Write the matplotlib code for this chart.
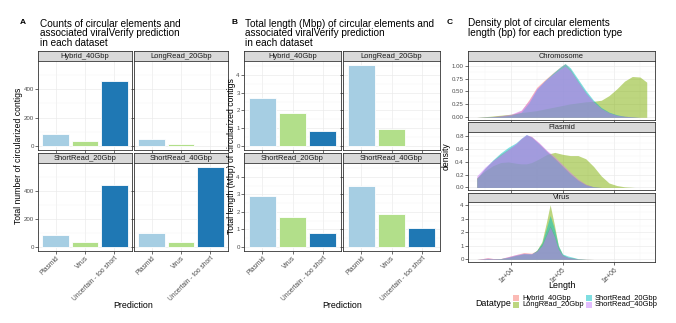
import numpy as np
import matplotlib
matplotlib.use("Agg")
import matplotlib.pyplot as plt
from matplotlib.patches import Rectangle

plt.rcParams['font.family'] = ['Liberation Sans', 'DejaVu Sans']

# bar data (panels A and B)
predictions = ['Plasmid', 'Virus', 'Uncertain - too short']
datasets = ['Hybrid_40Gbp', 'LongRead_20Gbp', 'ShortRead_20Gbp', 'ShortRead_40Gbp']
bar_colors = ['#a6cee3', '#b2df8a', '#1f78b4']

counts_hybrid40 = [85, 37, 455]
counts_long20 = [48, 16, None]
counts_short20 = [86, 33, 440]
counts_short40 = [100, 37, 570]

mbp_hybrid40 = [2.70, 1.83, 0.84]
mbp_long20 = [4.56, 0.95, None]
mbp_short20 = [2.88, 1.73, 0.82]
mbp_short40 = [3.46, 1.86, 1.06]

# density data (panel C), x = log10(length)
chrom_x = [3.34, 3.6, 3.8, 4.0, 4.2, 4.35, 4.5, 4.65, 4.8, 4.95, 5.05, 5.15,
           5.3, 5.45, 5.6, 5.75, 5.9, 6.05, 6.2, 6.35, 6.5, 6.63]
chrom_hybrid40 = [0, 0.01, 0.03, 0.05, 0.13, 0.34, 0.58, 0.72, 0.85, 0.97, 1.04, 0.93,
                  0.70, 0.48, 0.30, 0.17, 0.09, 0.04, 0.02, 0.01, 0, 0]
chrom_long20 = [0, 0.02, 0.04, 0.06, 0.09, 0.11, 0.13, 0.16, 0.19, 0.22, 0.24, 0.26,
                0.28, 0.30, 0.31, 0.33, 0.42, 0.55, 0.70, 0.79, 0.78, 0.68]
chrom_short20 = [0, 0.01, 0.02, 0.04, 0.10, 0.28, 0.54, 0.70, 0.84, 0.97, 1.04, 0.96,
                 0.74, 0.52, 0.33, 0.19, 0.10, 0.05, 0.02, 0.01, 0, 0]
chrom_short40 = [0, 0.01, 0.03, 0.06, 0.14, 0.32, 0.56, 0.70, 0.82, 0.93, 0.99, 0.90,
                 0.68, 0.47, 0.30, 0.17, 0.09, 0.04, 0.02, 0.01, 0, 0]

plas_x = [3.34, 3.5, 3.65, 3.8, 3.95, 4.1, 4.2, 4.3, 4.4, 4.55, 4.7, 4.85, 5.0,
          5.15, 5.3, 5.45, 5.6, 5.75, 5.9, 6.05, 6.2, 6.4, 6.63]
plas_hybrid40 = [0.15, 0.30, 0.42, 0.52, 0.60, 0.68, 0.76, 0.82, 0.80, 0.69, 0.57, 0.46, 0.34,
                 0.22, 0.12, 0.05, 0.01, 0, 0, 0, 0, 0, 0]
plas_long20 = [0.15, 0.26, 0.34, 0.39, 0.40, 0.38, 0.37, 0.37, 0.39, 0.45, 0.52, 0.55, 0.52,
               0.50, 0.50, 0.45, 0.33, 0.18, 0.07, 0.03, 0.01, 0, 0]
plas_short20 = [0.14, 0.30, 0.43, 0.54, 0.63, 0.70, 0.77, 0.83, 0.79, 0.68, 0.56, 0.45, 0.33,
                0.21, 0.11, 0.04, 0.01, 0, 0, 0, 0, 0, 0]
plas_short40 = [0.18, 0.32, 0.42, 0.50, 0.59, 0.69, 0.77, 0.83, 0.80, 0.70, 0.58, 0.48, 0.36,
                0.24, 0.13, 0.05, 0.01, 0, 0, 0, 0, 0, 0]

virus_x = [3.34, 3.45, 3.55, 3.65, 3.8, 3.95, 4.1, 4.25, 4.4, 4.5, 4.6, 4.68, 4.76,
           4.84, 4.92, 5.0, 5.1, 5.2, 5.3, 5.45, 5.6]
virus_hybrid40 = [0, 0.05, 0.12, 0.06, 0.05, 0.2, 0.35, 0.5, 0.45, 0.65, 1.1, 1.8, 2.5,
                  1.8, 0.8, 0.3, 0.15, 0.08, 0.03, 0.01, 0]
virus_long20 = [0, 0.02, 0.04, 0.03, 0.05, 0.15, 0.28, 0.40, 0.38, 0.65, 1.3, 2.6, 4.05,
                2.6, 1.0, 0.35, 0.15, 0.10, 0.04, 0.01, 0]
virus_short20 = [0, 0.02, 0.05, 0.03, 0.05, 0.15, 0.30, 0.42, 0.40, 0.65, 1.2, 2.2, 3.25,
                 2.3, 1.0, 0.4, 0.25, 0.15, 0.05, 0.01, 0]
virus_short40 = [0, 0.05, 0.10, 0.06, 0.05, 0.2, 0.35, 0.45, 0.42, 0.6, 1.0, 1.7, 2.4,
                 1.7, 0.75, 0.3, 0.15, 0.08, 0.03, 0.01, 0]

dens_colors = ['#F8766D', '#7CAE00', '#00BFC4', '#C77CFF']

W, H = 676, 323
fig = plt.figure(figsize=(W / 100, H / 100), dpi=100)

def box(x0, y0, x1, y1):
    return [x0 / W, 1 - y1 / H, (x1 - x0) / W, (y1 - y0) / H]

def strip(x0, y0, x1, y1, label):
    s = fig.add_axes(box(x0, y0, x1, y1))
    s.set_facecolor('#d9d9d9')
    s.set_xticks([]); s.set_yticks([])
    for sp in s.spines.values():
        sp.set_color('#333333'); sp.set_linewidth(0.6)
    s.text(0.5, 0.45, label, ha='center', va='center', fontsize=5.4, color='#1a1a1a',
           transform=s.transAxes)

def style(ax):
    ax.set_facecolor('white')
    for sp in ax.spines.values():
        sp.set_color('#333333'); sp.set_linewidth(0.6)
    ax.grid(True, which='major', color='#ebebeb', lw=0.5)
    ax.grid(True, which='minor', color='#f4f4f4', lw=0.3)
    ax.set_axisbelow(True)
    ax.tick_params(which='major', length=2, width=0.5, color='#333333', labelsize=4.4,
                   labelcolor='#4d4d4d', pad=1)
    ax.tick_params(which='minor', length=0)

def bar_facets(xs, values, yticks, ymax, ylabel, ylabel_x):
    ys = [(61, 150, 51), (163, 251, 153)]
    k = 0
    for r in range(2):
        for c in range(2):
            x0, x1 = xs[c]
            y0, y1, sy = ys[r]
            strip(x0, sy, x1, y0, datasets[k])
            ax = fig.add_axes(box(x0, y0, x1, y1))
            style(ax)
            vals = values[k]
            for i, v in enumerate(vals):
                if v is not None:
                    ax.bar(i, v, width=0.9, color=bar_colors[i], edgecolor='white', lw=0.6)
            ax.set_xlim(-0.6, 2.6)
            ax.set_ylim(-0.05 * ymax, ymax * 1.05)
            ax.set_xticks(range(3))
            ax.set_yticks(yticks)
            step = yticks[1] - yticks[0]
            ax.set_yticks(np.arange(step / 2, ymax * 1.05, step), minor=True)
            if r == 1:
                ax.set_xticklabels(predictions, rotation=45, ha='right', rotation_mode='anchor',
                                   fontsize=4.8)
            else:
                ax.set_xticklabels([])
            if c == 1:
                ax.set_yticklabels([])
            k += 1
    fig.text(ylabel_x / W, 1 - 156 / H, ylabel, rotation=90, ha='center', va='center', fontsize=6.2)
    fig.text((xs[0][0] + xs[1][1]) / 2 / W, 1 - 305 / H, 'Prediction', ha='center', va='center',
             fontsize=6.4)

# panel A
fig.text(20 / W, 1 - 23 / H, 'A', fontsize=6, fontweight='bold', va='center')
fig.text(40 / W, 1 - 33.5 / H, 'Counts of circular elements and\nassociated viralVerify prediction\nin each dataset',
         fontsize=7.2, va='center', linespacing=0.95)
bar_facets([(38, 132), (134, 228)],
           [counts_hybrid40, counts_long20, counts_short20, counts_short40],
           [0, 200, 400], 570, 'Total number of circularized contigs', 19)

# panel B
fig.text(231 / W, 1 - 23 / H, 'B', fontsize=6, fontweight='bold', va='center')
fig.text(245 / W, 1 - 33.5 / H, 'Total length (Mbp) of circular elements and\nassociated viralVerify prediction\nin each dataset',
         fontsize=7.2, va='center', linespacing=0.95)
bar_facets([(244, 341), (343, 440)],
           [mbp_hybrid40, mbp_long20, mbp_short20, mbp_short40],
           [0, 1, 2, 3, 4], 4.56, 'Total length (Mbp) of circularized contigs', 231)

# panel C
fig.text(447 / W, 1 - 23 / H, 'C', fontsize=6, fontweight='bold', va='center')
fig.text(468 / W, 1 - 28 / H, 'Density plot of circular elements\nlength (bp) for each prediction type',
         fontsize=7.2, va='center', linespacing=0.95)

dens_panels = [
    ('Chromosome', chrom_x, [chrom_hybrid40, chrom_long20, chrom_short20, chrom_short40],
     [0, 0.25, 0.5, 0.75, 1.0], ['0.00', '0.25', '0.50', '0.75', '1.00'], (-0.052, 1.09), (51, 61, 120)),
    ('Plasmid', plas_x, [plas_hybrid40, plas_long20, plas_short20, plas_short40],
     [0, 0.2, 0.4, 0.6, 0.8], ['0.0', '0.2', '0.4', '0.6', '0.8'], (-0.04, 0.87), (122, 132, 190)),
    ('Virus', virus_x, [virus_hybrid40, virus_long20, virus_short20, virus_short40],
     [0, 1, 2, 3, 4], ['0', '1', '2', '3', '4'], (-0.2, 4.25), (193, 202, 262)),
]
cx0, cx1 = 468, 655
for name, xv, series, yt, ytl, ylim, (sy, y0, y1) in dens_panels:
    strip(cx0, sy, cx1, y0, name)
    ax = fig.add_axes(box(cx0, y0, cx1, y1))
    style(ax)
    for yv, col in zip(series, dens_colors):
        ax.fill_between(xv, 0, yv, color=col, alpha=0.5, lw=0)
    ax.set_xlim(3.17, 6.79)
    ax.set_ylim(*ylim)
    ax.set_yticks(yt)
    ax.set_yticklabels(ytl)
    step = yt[1] - yt[0]
    ax.set_yticks(np.arange(step / 2, ylim[1], step), minor=True)
    ax.set_xticks([4, 5, 6])
    ax.set_xticks([3.5, 4.5, 5.5, 6.5], minor=True)
    if name == 'Virus':
        ax.set_xticklabels(['1e+04', '1e+05', '1e+06'], rotation=45, ha='right',
                           rotation_mode='anchor', fontsize=4.8)
    else:
        ax.set_xticklabels([])

fig.text(446 / W, 1 - 156 / H, 'density', rotation=90, ha='center', va='center', fontsize=6.2)
fig.text(562 / W, 1 - 286 / H, 'Length', ha='center', va='center', fontsize=6.4)

# legend
fig.text(475 / W, 1 - 303 / H, 'Datatype', ha='left', va='center', fontsize=6.4)
leg_pos = [(513, 298), (513, 305), (586, 298), (586, 305)]
for (lx, ly), col, lab in zip(leg_pos, dens_colors, datasets):
    fig.patches.append(Rectangle((lx / W, 1 - (ly + 3) / H), 6 / W, 6 / H, transform=fig.transFigure,
                                 facecolor=col, alpha=0.5, lw=0))
    fig.text((lx + 9) / W, 1 - ly / H, lab, ha='left', va='center', fontsize=5.4)

fig.savefig('out.png', dpi=100, facecolor='white')
